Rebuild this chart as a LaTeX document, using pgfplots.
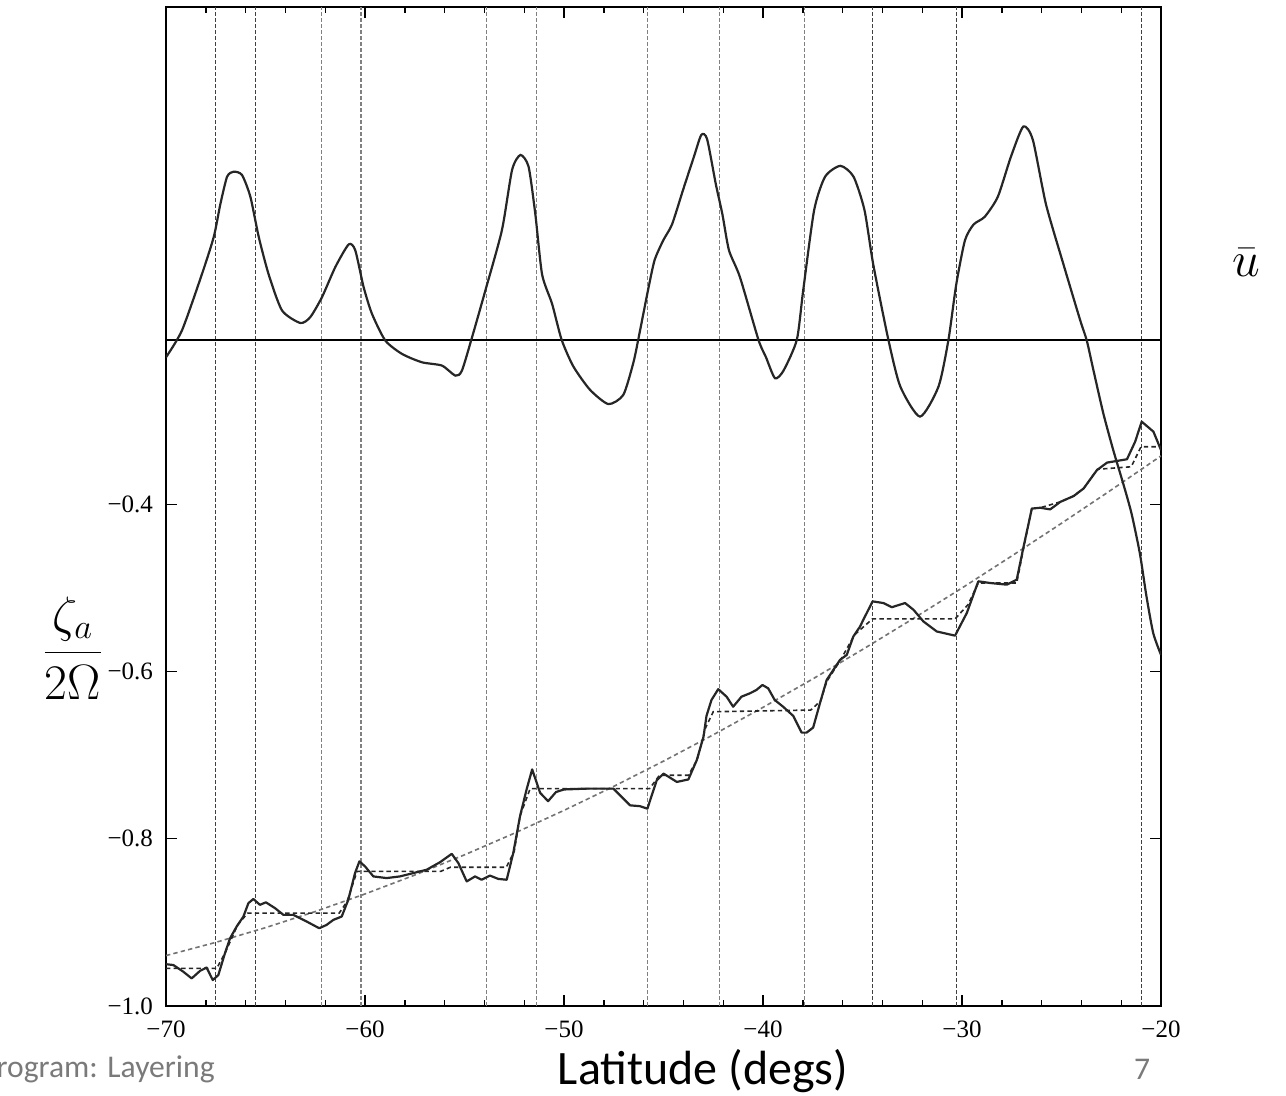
\documentclass[border=0pt]{standalone}
\usepackage{pgfplots}
\pgfplotsset{compat=1.18}
\usepackage{fontspec}
\setmainfont{Carlito}
\newfontfamily\timesfont{Liberation Serif}
\begin{document}
\begin{tikzpicture}
\useasboundingbox (0,0) rectangle (643pt,548pt);
\begin{axis}[
  at={(83pt,45pt)}, anchor=south west,
  scale only axis, width=497.5pt, height=499.5pt,
  xmin=-70, xmax=-20, ymin=-1, ymax=0.195,
  axis line style={line width=1pt},
  xtick={-70,-60,-50,-40,-30,-20},
  xticklabels={−70,−60,−50,−40,−30,−20},
  minor x tick num=4,
  ytick={-1,-0.8,-0.6,-0.4},
  yticklabels={−1.0,−0.8,−0.6,−0.4},
  tick align=inside,
  major tick length=5.5pt, minor tick length=2.8pt,
  every tick/.style={black, line width=0.7pt},
  ticklabel style={font=\timesfont\fontsize{12.5}{14}\selectfont},
  xticklabel style={yshift=-4pt},
  yticklabel style={xshift=-3pt},
  darkv/.style={black!75, line width=0.5pt, dash pattern=on 1.8pt off 1.2pt},
  grayv/.style={black!50, line width=0.6pt, dash pattern=on 1.8pt off 1.2pt},
]
\pgfplotsinvokeforeach{-67.5,-65.5,-34.5,-30.3,-21.0}{
  \addplot[darkv] coordinates {(#1,-1) (#1,0.195)};
}
\pgfplotsinvokeforeach{-62.2,-60.2,-53.9,-51.4,-45.8,-42.2,-37.9}{
  \addplot[grayv] coordinates {(#1,-1) (#1,0.195)};
}
% zero line of u-bar
\addplot[black, line width=0.8pt] coordinates {(-70,-0.203) (-20,-0.203)};
% planetary vorticity (smooth gray dashed)
\addplot[black!55, line width=0.8pt, dash pattern=on 2.2pt off 1.6pt] coordinates {
(-70,-0.9397) (-67.5,-0.9239) (-65,-0.9063) (-62.5,-0.8870) (-60,-0.8660)
(-57.5,-0.8434) (-55,-0.8192) (-52.5,-0.7934) (-50,-0.7660) (-47.5,-0.7373)
(-45,-0.7071) (-42.5,-0.6756) (-40,-0.6428) (-37.5,-0.6088) (-35,-0.5736)
(-32.5,-0.5373) (-30,-0.5) (-27.5,-0.4617) (-25,-0.4226) (-22.5,-0.3827) (-20,-0.3420)};
% staircase (dashed)
\addplot[black!85, line width=0.8pt, dash pattern=on 2.2pt off 1.6pt] coordinates {
(-70,-0.955) (-67.45,-0.955) (-67.0,-0.935) (-66.4,-0.903) (-65.9,-0.889) (-61.3,-0.889)
(-60.9,-0.875) (-60.4,-0.839) (-56.2,-0.839) (-55.7,-0.834) (-52.9,-0.834) (-52.5,-0.815)
(-52.2,-0.772) (-51.7,-0.740) (-45.7,-0.740) (-45.2,-0.724) (-43.75,-0.724) (-43.3,-0.705)
(-42.9,-0.668) (-42.5,-0.648) (-37.6,-0.646) (-37.1,-0.635) (-36.8,-0.612) (-36.1,-0.586)
(-35.4,-0.556) (-34.5,-0.537) (-30.35,-0.537) (-29.7,-0.520) (-29.18,-0.494) (-27.25,-0.494)
(-26.9,-0.452) (-26.5,-0.405) (-26.07,-0.404) (-25.06,-0.397) (-24.39,-0.390) (-23.89,-0.381)
(-23.2,-0.358) (-21.5,-0.355) (-21.0,-0.331) (-20,-0.331)};
% absolute vorticity (solid)
\addplot[black!85, line width=1.1pt, line join=round] coordinates {
(-70.0,-0.950) (-69.63,-0.951) (-69.13,-0.959) (-68.71,-0.967) (-68.29,-0.958) (-67.96,-0.954)
(-67.65,-0.969) (-67.37,-0.963) (-67.04,-0.937) (-66.78,-0.919) (-66.45,-0.905) (-66.11,-0.893)
(-65.86,-0.877) (-65.61,-0.872) (-65.28,-0.879) (-64.98,-0.876) (-64.52,-0.883) (-64.1,-0.891)
(-63.6,-0.891) (-62.93,-0.899) (-62.3,-0.907) (-61.93,-0.903) (-61.59,-0.897) (-61.17,-0.893)
(-60.84,-0.873) (-60.5,-0.841) (-60.28,-0.827) (-60.0,-0.833) (-59.58,-0.845) (-58.91,-0.847)
(-58.24,-0.845) (-57.57,-0.841) (-56.9,-0.837) (-56.23,-0.828) (-55.64,-0.818) (-55.31,-0.829)
(-54.89,-0.851) (-54.47,-0.845) (-54.14,-0.849) (-53.72,-0.844) (-53.3,-0.848) (-52.88,-0.849)
(-52.55,-0.817) (-52.21,-0.773) (-51.88,-0.741) (-51.6,-0.717) (-51.2,-0.745) (-50.8,-0.755)
(-50.4,-0.744) (-50.0,-0.741) (-48.86,-0.740) (-47.52,-0.740) (-46.68,-0.760) (-46.18,-0.761)
(-45.81,-0.764) (-45.34,-0.730) (-45.0,-0.722) (-44.33,-0.732) (-43.75,-0.729) (-43.33,-0.706)
(-42.99,-0.678) (-42.84,-0.653) (-42.59,-0.634) (-42.25,-0.621) (-41.83,-0.630) (-41.5,-0.642)
(-41.08,-0.630) (-40.66,-0.626) (-40.33,-0.622) (-40.03,-0.616) (-39.74,-0.620) (-39.41,-0.634)
(-38.99,-0.642) (-38.48,-0.653) (-38.06,-0.673) (-37.81,-0.673) (-37.48,-0.667) (-37.14,-0.638)
(-36.8,-0.610) (-36.13,-0.586) (-35.79,-0.580) (-35.46,-0.558) (-35.12,-0.546) (-34.96,-0.538)
(-34.49,-0.516) (-33.95,-0.518) (-33.53,-0.523) (-32.86,-0.518) (-32.44,-0.526) (-31.94,-0.540)
(-31.27,-0.552) (-30.35,-0.557) (-29.76,-0.530) (-29.18,-0.492) (-28.59,-0.494) (-27.75,-0.496)
(-27.25,-0.490) (-26.91,-0.451) (-26.49,-0.405) (-26.07,-0.404) (-25.57,-0.406) (-25.06,-0.397)
(-24.39,-0.390) (-23.89,-0.381) (-23.22,-0.359) (-22.71,-0.350) (-21.71,-0.346) (-21.3,-0.325)
(-20.97,-0.301) (-20.38,-0.313) (-20.0,-0.335)};
% u-bar (solid)
\addplot[black!85, line width=1.1pt, smooth, tension=0.4] coordinates {
(-70.0,-0.224) (-69.2,-0.192) (-68.2,-0.125) (-67.6,-0.080) (-67.27,-0.041) (-66.93,-0.008)
(-66.6,-0.002) (-66.18,-0.006) (-65.76,-0.032) (-65.34,-0.080) (-64.84,-0.125) (-64.17,-0.168)
(-63.25,-0.183) (-62.75,-0.176) (-62.16,-0.152) (-61.49,-0.116) (-60.82,-0.089) (-60.49,-0.096)
(-60.07,-0.140) (-59.65,-0.172) (-58.98,-0.204) (-58.14,-0.220) (-57.14,-0.230) (-56.13,-0.234)
(-55.46,-0.246) (-55.13,-0.240) (-54.62,-0.200) (-53.95,-0.144) (-53.12,-0.072) (-52.61,-0.000)
(-52.19,0.018) (-51.78,0.004) (-51.44,-0.053) (-51.1,-0.125) (-50.6,-0.160) (-50.12,-0.203)
(-49.53,-0.235) (-48.69,-0.263) (-47.77,-0.280) (-47.02,-0.269) (-46.52,-0.231) (-46.27,-0.203)
(-45.78,-0.144) (-45.45,-0.108) (-45.01,-0.084) (-44.57,-0.065) (-44.02,-0.024) (-43.47,0.016)
(-43.1,0.042) (-42.81,0.037) (-42.37,-0.017) (-42.04,-0.053) (-41.71,-0.096) (-41.16,-0.128)
(-40.23,-0.203) (-39.85,-0.224) (-39.4,-0.249) (-38.97,-0.240) (-38.3,-0.203) (-37.98,-0.144)
(-37.43,-0.048) (-36.88,-0.008) (-36.11,0.005) (-35.45,-0.008) (-34.9,-0.048) (-34.46,-0.113)
(-33.7,-0.203) (-33.1,-0.259) (-32.11,-0.295) (-31.18,-0.259) (-30.68,-0.203) (-30.29,-0.137)
(-29.85,-0.084) (-29.41,-0.065) (-28.86,-0.056) (-28.2,-0.032) (-27.54,0.016) (-26.92,0.052)
(-26.44,0.036) (-25.78,-0.041) (-24.9,-0.113) (-24.07,-0.179) (-23.73,-0.204) (-23.4,-0.239)
(-22.9,-0.291) (-22.4,-0.335) (-21.9,-0.375) (-21.48,-0.411) (-21.06,-0.459) (-20.73,-0.510)
(-20.39,-0.554) (-20.0,-0.580)};
\end{axis}
\node[font=\fontsize{24}{28}\selectfont] at (36.5pt,224pt) {$\displaystyle\frac{\zeta_a}{2\Omega}$};
\node[font=\fontsize{24}{28}\selectfont] at (623pt,416.5pt) {$\bar{u}$};
\node[anchor=base, font=\fontsize{24}{28}\selectfont] at (351.5pt,5.5pt) {Latitude (degs)};
\node[anchor=base east, text=black!52, font=\fontsize{15.8}{18}\selectfont, inner sep=0pt] at (107.5pt,9pt) {Program: Layering};
\node[anchor=base, text=black!52, font=\fontsize{15.8}{18}\selectfont, inner sep=0pt] at (571pt,8pt) {7};
\end{tikzpicture}
\end{document}
